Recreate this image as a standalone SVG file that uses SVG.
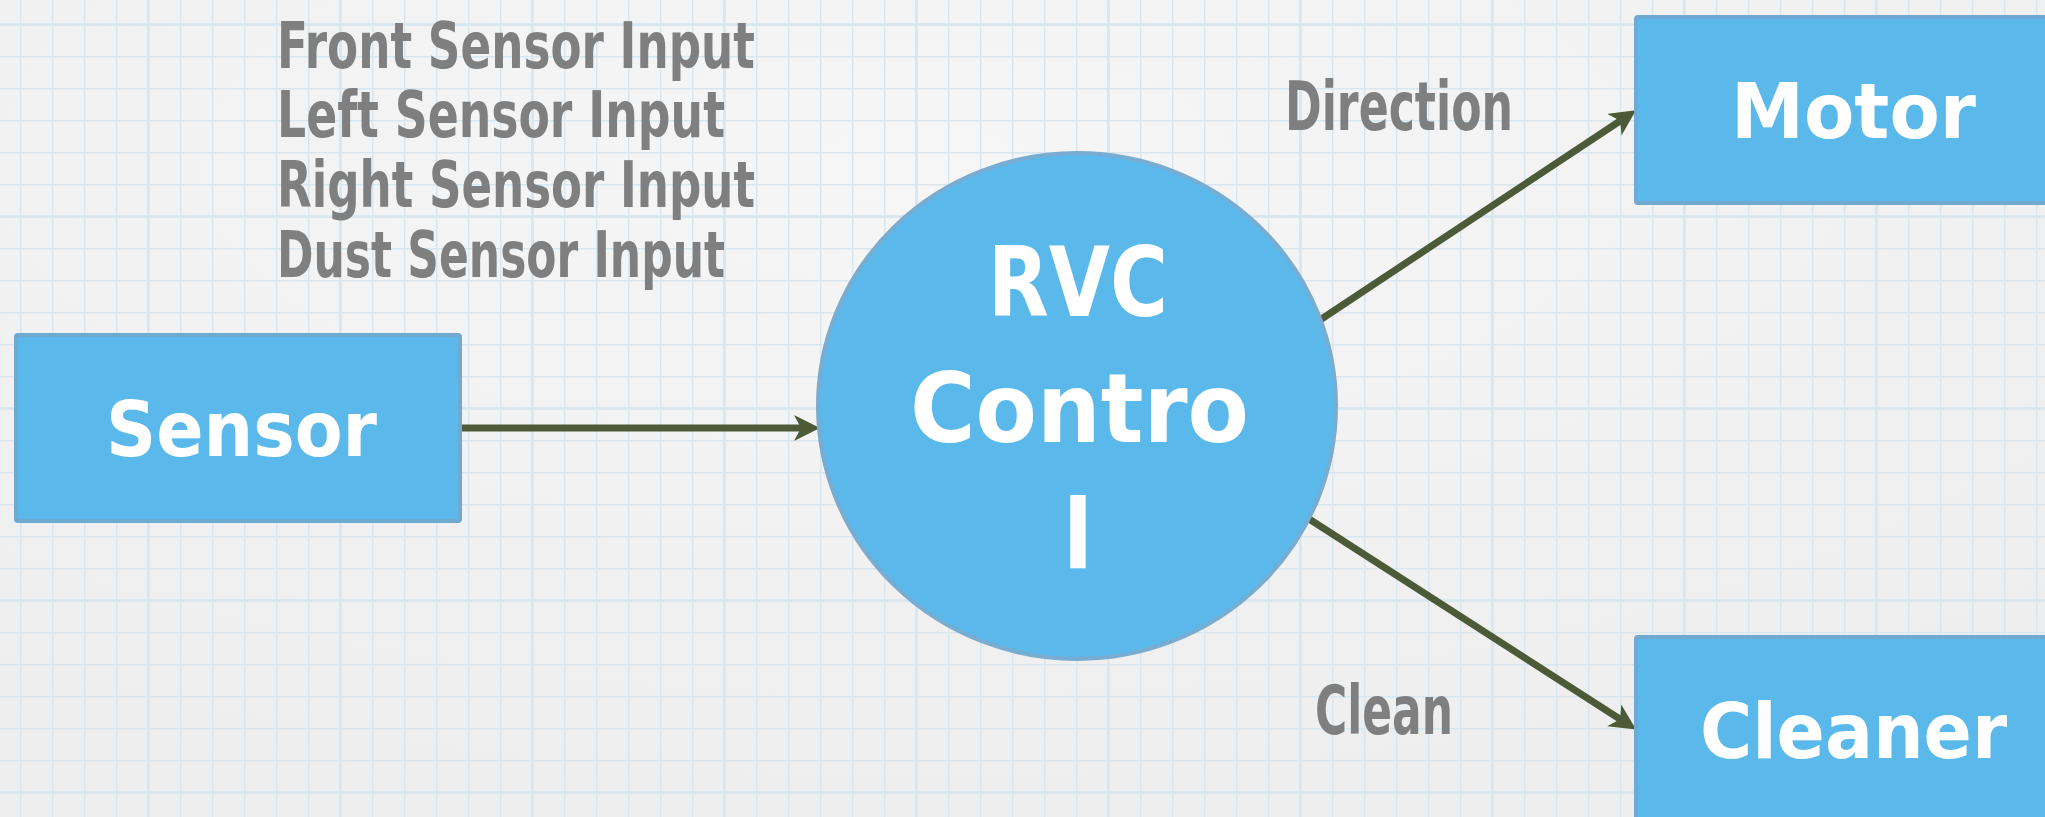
<svg xmlns="http://www.w3.org/2000/svg" width="2045" height="817" viewBox="0 0 2045 817">
  <style>
    .box { fill: #5bb8eb; stroke: #70aad0; stroke-width: 4; }
    .circ { fill: #5bb8eb; stroke: #78acd0; stroke-width: 4; }
    .lbl { font-family: "DejaVu Sans Condensed", "Liberation Sans Narrow", "Liberation Sans", sans-serif; font-weight: bold; fill: #ffffff; }
    .note { font-family: "DejaVu Sans Condensed", "Liberation Sans Narrow", "Liberation Sans", sans-serif; font-weight: bold; fill: #7f7f7f; }
    .conn { stroke: #4d5a38; stroke-width: 7; fill: none; marker-end: url(#arr); }
  </style>
  <defs>
    <radialGradient id="bg" cx="0.45" cy="0.2" r="0.8">
      <stop offset="0" stop-color="#f6f6f6"/>
      <stop offset="1" stop-color="#eeeeee"/>
    </radialGradient>
    <pattern id="grid" patternUnits="userSpaceOnUse" x="20" y="24" width="32" height="32">
      <path d="M0.75,0 V32 M0,0.75 H32" stroke="#d8e7ef" stroke-width="1.5" fill="none"/>
    </pattern>
    <pattern id="grid2" patternUnits="userSpaceOnUse" x="147" y="23" width="192" height="192">
      <path d="M1.5,0 V192 M0,1.5 H192" stroke="#dce8ee" stroke-width="3" fill="none"/>
    </pattern>
    <marker id="arr" markerUnits="userSpaceOnUse" viewBox="0 0 26 26" markerWidth="26" markerHeight="26" refX="14" refY="13" orient="auto">
      <path d="M0,0 L26,13 L0,26 L7,13 Z" fill="#4d5a38"/>
    </marker>
  </defs>

  <rect x="0" y="0" width="2045" height="817" fill="url(#bg)"/>
  <rect x="0" y="0" width="2045" height="817" fill="url(#grid2)"/>
  <rect x="0" y="0" width="2045" height="817" fill="url(#grid)"/>

  <g id="connectors">
    <line class="conn" x1="460" y1="428" x2="808" y2="428"/>
    <line class="conn" x1="1320" y1="320" x2="1626" y2="117"/>
    <line class="conn" x1="1306" y1="517" x2="1626" y2="723"/>
  </g>

  <g id="input-labels">
    <text class="note" x="277" y="68" font-size="64" textLength="478" lengthAdjust="spacingAndGlyphs">Front Sensor Input</text>
    <text class="note" x="277" y="137" font-size="64" textLength="448" lengthAdjust="spacingAndGlyphs">Left Sensor Input</text>
    <text class="note" x="277" y="207" font-size="64" textLength="478" lengthAdjust="spacingAndGlyphs">Right Sensor Input</text>
    <text class="note" x="277" y="277" font-size="64" textLength="448" lengthAdjust="spacingAndGlyphs">Dust Sensor Input</text>
  </g>
  <g id="label-direction">
    <text class="note" x="1285" y="130" font-size="68" textLength="228" lengthAdjust="spacingAndGlyphs">Direction</text>
  </g>
  <g id="label-clean">
    <text class="note" x="1315" y="734" font-size="68" textLength="138" lengthAdjust="spacingAndGlyphs">Clean</text>
  </g>

  <g id="sensor">
    <rect class="box" x="16" y="335" width="444" height="186" rx="2"/>
    <text class="lbl" x="106" y="456" font-size="77" textLength="271" lengthAdjust="spacingAndGlyphs">Sensor</text>
  </g>

  <g id="rvc-control">
    <ellipse class="circ" cx="1077" cy="406" rx="259" ry="253"/>
    <text class="lbl" x="988" y="316" font-size="97" textLength="180" lengthAdjust="spacingAndGlyphs">RVC</text>
    <text class="lbl" x="910" y="442" font-size="97" textLength="339" lengthAdjust="spacingAndGlyphs">Contro</text>
    <text class="lbl" x="1078" y="568" font-size="97" text-anchor="middle">l</text>
  </g>

  <g id="motor">
    <rect class="box" x="1636" y="17" width="430" height="186" rx="2"/>
    <text class="lbl" x="1731" y="138" font-size="77" textLength="245" lengthAdjust="spacingAndGlyphs">Motor</text>
  </g>

  <g id="cleaner">
    <rect class="box" x="1636" y="637" width="430" height="200" rx="2"/>
    <text class="lbl" x="1700" y="758" font-size="77" textLength="307" lengthAdjust="spacingAndGlyphs">Cleaner</text>
  </g>
</svg>
